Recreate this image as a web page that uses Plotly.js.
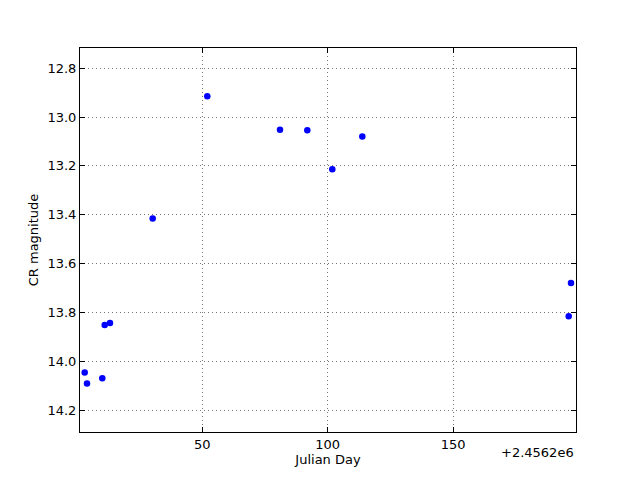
<!DOCTYPE html>
<html>
<head>
<meta charset="utf-8">
<script src="https://cdn.plot.ly/plotly-3.0.1.min.js"></script>
<style>html,body{margin:0;padding:0;background:#fff;}#chart{width:640px;height:480px;}</style>
</head>
<body>
<div id="chart"></div>
<script>
const julianDay = [3.11, 4.03, 10.13, 11.08, 13.20, 30.22, 51.99, 80.98, 91.87, 101.83, 113.80, 196.09, 197.01];
const crMagnitude = [14.046, 14.091, 14.070, 13.852, 13.843, 13.415, 12.915, 13.052, 13.054, 13.214, 13.080, 13.816, 13.680];
const xTicks = [50, 100, 150];
const yTicks = [12.8, 13.0, 13.2, 13.4, 13.6, 13.8, 14.0, 14.2];
const offsetText = "+2.4562e6";

const font = {family: "DejaVu Sans", size: 13, color: "#000"};
const axisCommon = {
  showline: true, linecolor: "#000", linewidth: 1, mirror: "ticks",
  ticks: "inside", ticklen: 5, tickcolor: "#000", tickwidth: 1,
  showgrid: true, gridcolor: "#777", griddash: "1px,3px", gridwidth: 1,
  zeroline: false, tickfont: font
};

Plotly.newPlot("chart", [{
  x: julianDay, y: crMagnitude, type: "scatter", mode: "markers",
  marker: {color: "#0000ff", size: 6.5, line: {width: 0}}
}], {
  width: 640, height: 480,
  margin: {l: 80, r: 64, t: 48, b: 48},
  paper_bgcolor: "#fff", plot_bgcolor: "#fff",
  showlegend: false,
  font: font,
  xaxis: Object.assign({}, axisCommon, {
    range: [1.24, 199.0], tickvals: xTicks, ticktext: xTicks.map(String),
    title: {text: "Julian Day", font: font, standoff: 1}
  }),
  yaxis: Object.assign({}, axisCommon, {
    range: [14.29, 12.717], tickvals: yTicks, ticktext: yTicks.map(v => v.toFixed(1)),
    title: {text: "CR magnitude", font: font, standoff: 5}
  }),
  annotations: [{
    text: offsetText, xref: "paper", yref: "paper", x: 1, y: 0,
    xanchor: "right", yanchor: "top", yshift: -11, showarrow: false, font: font
  }]
}, {staticPlot: true});
</script>
</body>
</html>
